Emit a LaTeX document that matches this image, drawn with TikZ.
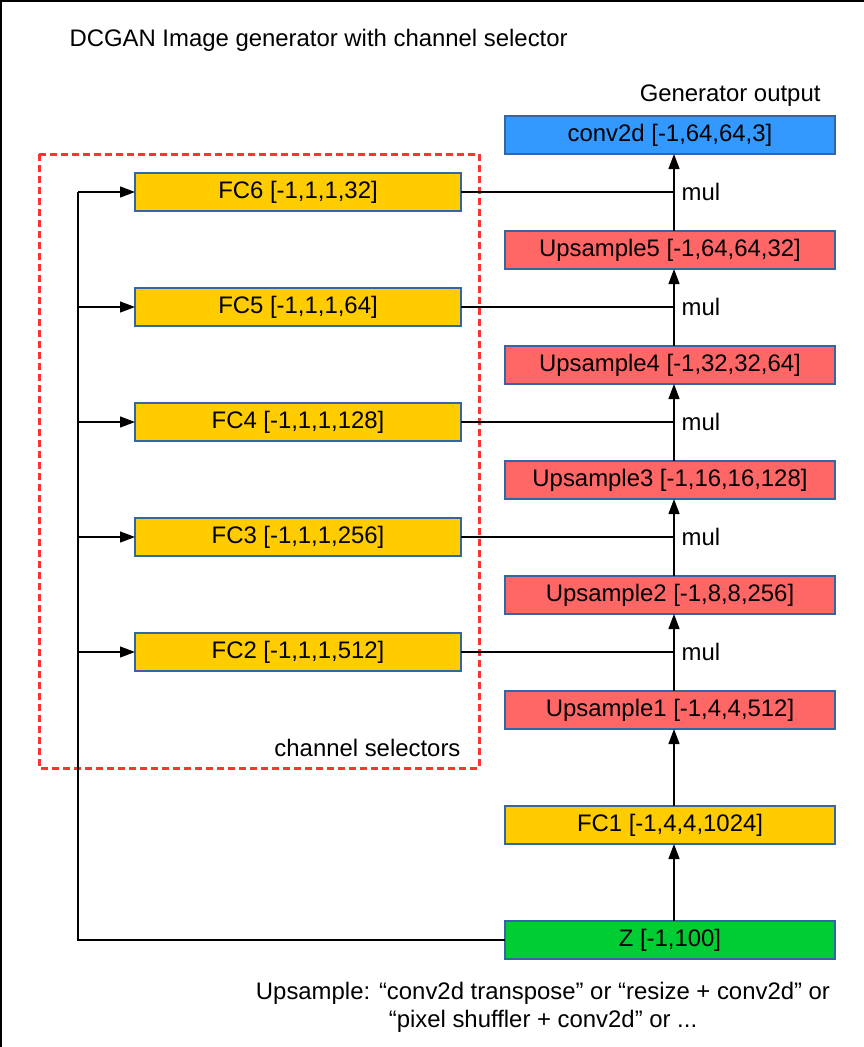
\documentclass[tikz,border=0pt]{standalone}
\usepackage{fontspec}
\setmainfont{Liberation Sans}
\usetikzlibrary{arrows.meta, positioning, calc}

\definecolor{edgeblue}{HTML}{3465A4}
\definecolor{fcorange}{HTML}{FFCC00}
\definecolor{upred}{HTML}{FF6666}
\definecolor{outblue}{HTML}{3399FF}
\definecolor{zgreen}{HTML}{00CC33}
\definecolor{selred}{HTML}{FF3333}
\newcommand{\lblfont}{\fontsize{23.9}{28}\selectfont}

\begin{document}
\begin{tikzpicture}[
    x=1pt, y=-1pt,
    node distance=77pt,
    every node/.style={font=\lblfont},
    layer/.style={rectangle, minimum width=330pt, minimum height=38pt, inner sep=0pt, outer sep=0pt, text centered, draw=edgeblue, line width=1.2pt},
    outlayer/.style={layer, fill=outblue},
    uplayer/.style={layer, fill=upred},
    fclayer/.style={layer, fill=fcorange},
    sellayer/.style={layer, minimum width=326pt, fill=fcorange},
    zlayer/.style={layer, fill=zgreen},
    selbox/.style={draw=selred, line width=3pt, dash pattern=on 7pt off 4pt},
    wire/.style={line width=1.3pt},
    arrow/.style={wire, -{Triangle[length=15pt,width=11pt]}}
]
    \useasboundingbox (0,0) rectangle (864,1047);
    \draw [line width=1.5pt] (0.75,1047) -- (0.75,0.75) -- (864,0.75);

    \node (title) [anchor=west] at (66,40) {DCGAN Image generator with channel selector};
    \draw [selbox] (39,154) rectangle (479,768);
    \node (selname) [anchor=east] at (464,748) {channel selectors};

    % generator column
    \node (conv) [outlayer] at (670,135) {conv2d [-1,64,64,3]};
    \node (up5) [uplayer, below=of conv] {Upsample5 [-1,64,64,32]};
    \node (up4) [uplayer, below=of up5] {Upsample4 [-1,32,32,64]};
    \node (up3) [uplayer, below=of up4] {Upsample3 [-1,16,16,128]};
    \node (up2) [uplayer, below=of up3] {Upsample2 [-1,8,8,256]};
    \node (up1) [uplayer, below=of up2] {Upsample1 [-1,4,4,512]};
    \node (fc1) [fclayer, below=of up1] {FC1 [-1,4,4,1024]};
    \node (z) [zlayer, below=of fc1] {Z [-1,100]};
    \node (outname) [anchor=east] at (824,96) {Generator output};

    % channel selectors
    \node (fc6) [sellayer] at (298,192) {FC6 [-1,1,1,32]};
    \node (fc5) [sellayer, below=of fc6] {FC5 [-1,1,1,64]};
    \node (fc4) [sellayer, below=of fc5] {FC4 [-1,1,1,128]};
    \node (fc3) [sellayer, below=of fc4] {FC3 [-1,1,1,256]};
    \node (fc2) [sellayer, below=of fc3] {FC2 [-1,1,1,512]};

    \node (note) [align=center] at (543,1007) {Upsample: “conv2d transpose” or “resize + conv2d” or\\“pixel shuffler + conv2d” or ...};

    \foreach \a/\b in {z/fc1,fc1/up1,up1/up2,up2/up3,up3/up4,up4/up5,up5/conv}
        \draw [arrow] ([xshift=4pt]\a.north) -- ([xshift=4pt]\b.south);

    \coordinate (bus) at (78,192);
    \draw [wire] (z.west) -| (bus);
    \foreach \f in {fc6,fc5,fc4,fc3,fc2}
        \draw [arrow] (bus |- \f.west) -- (\f.west);

    \foreach \f/\u in {fc6/up5,fc5/up4,fc4/up3,fc3/up2,fc2/up1}
        \draw [wire] (\f.east) -- ([xshift=4pt]\f.east -| \u.north)
            node [anchor=west, inner sep=0pt, xshift=7pt] {mul};
\end{tikzpicture}
\end{document}
